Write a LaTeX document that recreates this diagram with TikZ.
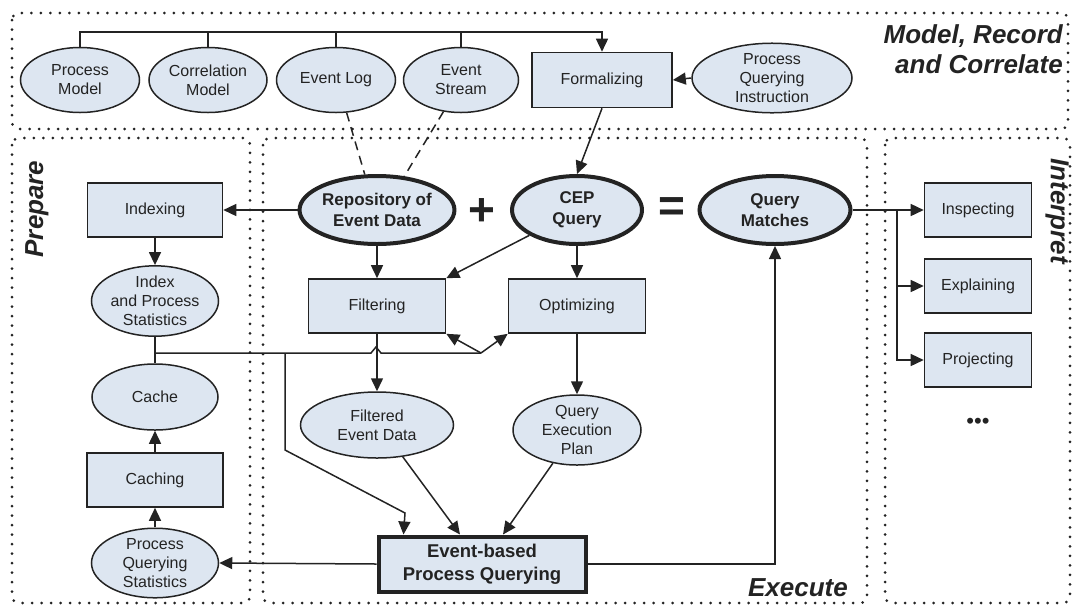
\documentclass[tikz,border=0pt]{standalone}
\usepackage{fontspec}
\setmainfont{Liberation Sans}
\usetikzlibrary{arrows.meta,shapes.geometric,calc}
\definecolor{boxfill}{RGB}{221,230,241}
\definecolor{ink}{RGB}{35,35,35}
\begin{document}
\begin{tikzpicture}[x=1pt,y=-1pt,
  every node/.style={text=ink},
  region/.style={draw=ink, line width=3pt, dash pattern=on 0pt off 9.5pt, line cap=round, rounded corners=7pt},
  rtitle/.style={font=\fontsize{26}{30}\selectfont\bfseries\itshape, inner sep=0pt},
  txt/.style={font=\fontsize{16}{19}\selectfont, align=center},
  btxt/.style={font=\fontsize{17}{21}\selectfont\bfseries, align=center},
  ell/.style={ellipse, draw=ink, fill=boxfill, line width=1.5pt, inner sep=0pt, txt},
  tell/.style={ellipse, draw=ink, fill=boxfill, line width=4pt, inner sep=0pt, btxt},
  box/.style={rectangle, draw=ink, fill=boxfill, line width=1.6pt, inner sep=0pt, txt},
  conn/.style={draw=ink, line width=1.5pt},
  arr/.style={conn, -{Triangle[length=13pt,width=12pt]}},
  dsh/.style={conn, dash pattern=on 9pt off 6pt},
  sym/.style={font=\fontsize{46}{46}\selectfont\bfseries, inner sep=0pt}
]
\useasboundingbox (0,0) rectangle (1075,606);

% regions
\draw[region] (12,13) rectangle (1068,129);
\draw[region] (12,138) rectangle (250,603);
\draw[region] (263,138) rectangle (867,603);
\draw[region] (885,138) rectangle (1070,603);

\node[rtitle, anchor=east, align=right] (t1) at (1063,49) {Model, Record\\and Correlate};
\node[rtitle, rotate=90] (t2) at (37,209) {Prepare};
\node[rtitle, rotate=-90] (t3) at (1057,211) {Interpret};
\node[rtitle, anchor=east] (t4) at (848,588) {Execute};

% top row
\node[ell, minimum width=119, minimum height=65] (pm) at (80,80) {Process\\Model};
\node[ell, minimum width=118, minimum height=65] (cm) at (208,80) {Correlation\\Model};
\node[ell, minimum width=119, minimum height=65] (el) at (336,80) {Event Log};
\node[ell, minimum width=115, minimum height=65] (es) at (461,80) {Event\\Stream};
\node[box, minimum width=140, minimum height=55] (form) at (602,80) {Formalizing};
\node[ell, minimum width=160, minimum height=63] (pqi) at (772,78) {Process\\Querying\\Instruction};

\coordinate (tl) at (602,32);
\draw[arr] (pm.north) |- (tl) -- (form.north);
\draw[conn] (cm.north) -- (cm.north |- tl);
\draw[conn] (el.north) -- (el.north |- tl);
\draw[conn] (es.north) -- (es.north |- tl);
\draw[arr] (pqi.west) -- (form.east);

% execute
\node[tell, minimum width=151, minimum height=68] (repo) at (377,210) {Repository of\\Event Data};
\node[sym] (plus) at (482,212) {+};
\node[tell, minimum width=130, minimum height=68] (cep) at (577,210) {CEP\\Query};
\node[sym] (eq) at (672,210) {=};
\node[tell, minimum width=151, minimum height=68] (qm) at (775,210) {Query\\Matches};

\draw[dsh] (el.288) -- (repo.109);
\draw[dsh] (es.241) -- (repo.51);
\draw[arr] (form.south) -- (cep.north);

\node[box, minimum width=137, minimum height=54] (filt) at (377,306) {Filtering};
\node[box, minimum width=137, minimum height=54] (opt) at (577,306) {Optimizing};
\node[ell, minimum width=153, minimum height=66] (fed) at (377,425) {Filtered\\Event Data};
\node[ell, minimum width=128, minimum height=70] (qep) at (577,430) {Query\\Execution\\Plan};
\node[box, line width=4pt, btxt, font=\fontsize{18.5}{23}\selectfont\bfseries, minimum width=207, minimum height=55] (epq) at (482,564) {Event-based\\Process Querying};

\draw[arr] (repo) -- (filt);
\draw[arr] (cep) -- (opt);
\draw[arr] (cep.208) -- (filt.north east);
\draw[arr] (filt) -- (fed);
\draw[arr] (opt) -- (qep);
\draw[arr] (fed.309) -- ($(epq.north)+(-22,0)$);
\draw[arr] (qep.234) -- ($(epq.north)+(21,0)$);
\draw[arr] (epq.east) -| (qm.south);

% prepare
\node[box, minimum width=135, minimum height=54] (idx) at (155,210) {Indexing};
\node[ell, minimum width=127, minimum height=58] (ips) at (155,301) {Index\\and Process\\Statistics};
\node[ell, minimum width=126, minimum height=66] (cache) at (155,397) {Cache};
\node[box, minimum width=136, minimum height=54] (caching) at (155,480) {Caching};
\node[ell, minimum width=127, minimum height=67] (pqs) at (155,563) {Process\\Querying\\Statistics};

\draw[arr] (repo.west) -- (idx.east);
\draw[arr] (idx) -- (ips);
\draw[conn] (ips.south) -- (cache.north);
\draw[arr] (pqs) -- (caching);
\draw[arr] (caching) -- (cache);
\draw[arr] (epq.west) -- (pqs.east);

\coordinate (j1) at (155,353);
\coordinate (j2) at (285,353);
\coordinate (br) at (481,353);
\draw[conn] (j1) -- (371,353) -- (376,347) -- (381,353) -- (br);
\draw[arr] (br) -- (filt.south east);
\draw[arr] (br) -- (opt.south west);
\draw[arr] (j2) -- (285,450) -- (405,513) -- ($(epq.north west)+(27,0)$);

% interpret
\node[box, minimum width=107, minimum height=54] (insp) at (978,210) {Inspecting};
\node[box, minimum width=107, minimum height=54] (expl) at (978,286) {Explaining};
\node[box, minimum width=107, minimum height=54] (proj) at (978,360) {Projecting};
\node[font=\fontsize{22}{22}\selectfont] (dots) at (978,423) {•••};
\coordinate (b2) at (897,210);
\draw[arr] (qm.east) -- (insp.west);
\draw[arr] (b2) |- (expl.west);
\draw[arr] (b2) |- (proj.west);
\end{tikzpicture}
\end{document}
